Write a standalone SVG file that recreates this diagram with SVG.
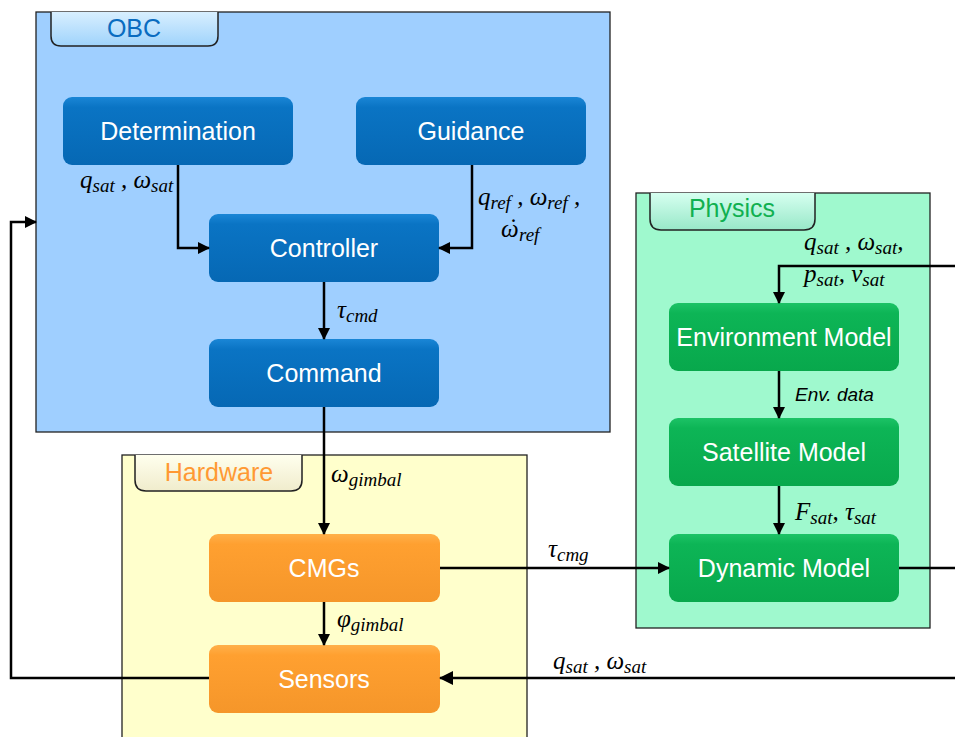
<svg xmlns="http://www.w3.org/2000/svg" width="955" height="737" viewBox="0 0 955 737">
<defs>
<linearGradient id="gBlue" x1="0" y1="0" x2="0" y2="1"><stop offset="0" stop-color="#1a86d6"/><stop offset="0.15" stop-color="#0a74c4"/><stop offset="1" stop-color="#0668b4"/></linearGradient>
<linearGradient id="gOrange" x1="0" y1="0" x2="0" y2="1"><stop offset="0" stop-color="#ffb04a"/><stop offset="0.15" stop-color="#ffa030"/><stop offset="1" stop-color="#f5962a"/></linearGradient>
<linearGradient id="gGreen" x1="0" y1="0" x2="0" y2="1"><stop offset="0" stop-color="#1cc366"/><stop offset="0.15" stop-color="#0db556"/><stop offset="1" stop-color="#08a84c"/></linearGradient>
<linearGradient id="tBlue" x1="0" y1="0" x2="0" y2="1"><stop offset="0" stop-color="#d8efff"/><stop offset="1" stop-color="#9fd3fb"/></linearGradient>
<linearGradient id="tYellow" x1="0" y1="0" x2="0" y2="1"><stop offset="0" stop-color="#ffffee"/><stop offset="1" stop-color="#f0eccc"/></linearGradient>
<linearGradient id="tGreen" x1="0" y1="0" x2="0" y2="1"><stop offset="0" stop-color="#d6fff0"/><stop offset="1" stop-color="#98e8c8"/></linearGradient>
<marker id="arr" markerWidth="12" markerHeight="12" refX="11" refY="6" orient="auto" markerUnits="userSpaceOnUse" viewBox="0 0 12 12"><path d="M0,0 L12,6 L0,12 z" fill="#000"/></marker>
<marker id="arrL" markerWidth="14" markerHeight="14" refX="13" refY="7" orient="auto" markerUnits="userSpaceOnUse" viewBox="0 0 14 14"><path d="M0,0 L14,7 L0,14 z" fill="#000"/></marker>
</defs>
<style>
.cont{stroke:#222;stroke-width:1.3}
.tab{stroke:#222;stroke-width:1.5}
.tabt{font-family:"Liberation Sans",Arial,sans-serif;font-size:25px;text-anchor:middle}
.box{stroke:none}
.bt{font-family:"Liberation Sans",Arial,sans-serif;font-size:25px;fill:#fff;text-anchor:middle;dominant-baseline:central}
.ln{fill:none;stroke:#000;stroke-width:2.5}
.m{font-family:"Liberation Serif","DejaVu Serif",serif;font-style:italic;font-size:25px;fill:#000}
.s{font-size:19px}
.env{font-family:"Liberation Sans",Arial,sans-serif;font-style:italic;font-size:19px;fill:#000}
</style>
<rect width="955" height="737" fill="#fff"/>
<g id="obc">
<rect class="cont" x="36" y="12" width="574" height="420" fill="#9fcfff"/>
<path class="tab" d="M51,12 L51,36 Q51,46 61,46 L208,46 Q218,46 218,36 L218,12" fill="url(#tBlue)"/>
<text class="tabt" x="134" y="37" fill="#0a6cc0">OBC</text>
</g>
<g id="hardware">
<rect class="cont" x="122" y="455" width="405" height="290" fill="#ffffcc"/>
<path class="tab" d="M135,455 L135,480 Q135,491 146,491 L291,491 Q302,491 302,480 L302,455" fill="url(#tYellow)"/>
<text class="tabt" x="219" y="481" fill="#ff9933">Hardware</text>
</g>
<g id="physics">
<rect class="cont" x="636" y="193" width="294" height="435" fill="#9ff9ce"/>
<path class="tab" d="M650,193 L650,219 Q650,230 661,230 L804,230 Q815,230 815,219 L815,193" fill="url(#tGreen)"/>
<text class="tabt" x="732" y="217" fill="#10b050">Physics</text>
</g>
<g id="determination"><rect class="box" x="63" y="97" width="230" height="68" rx="9" fill="url(#gBlue)"/><text class="bt" x="178" y="131">Determination</text></g>
<g id="guidance"><rect class="box" x="356" y="97" width="230" height="68" rx="9" fill="url(#gBlue)"/><text class="bt" x="471" y="131">Guidance</text></g>
<g id="controller"><rect class="box" x="209" y="214" width="230" height="68" rx="9" fill="url(#gBlue)"/><text class="bt" x="324" y="248">Controller</text></g>
<g id="command"><rect class="box" x="209" y="339" width="230" height="68" rx="9" fill="url(#gBlue)"/><text class="bt" x="324" y="373">Command</text></g>
<g id="cmgs"><rect class="box" x="209" y="534" width="231" height="68" rx="9" fill="url(#gOrange)"/><text class="bt" x="324" y="568">CMGs</text></g>
<g id="sensors"><rect class="box" x="209" y="645" width="231" height="68" rx="9" fill="url(#gOrange)"/><text class="bt" x="324" y="679">Sensors</text></g>
<g id="environment"><rect class="box" x="669" y="303" width="230" height="68" rx="9" fill="url(#gGreen)"/><text class="bt" x="784" y="337">Environment Model</text></g>
<g id="satellite"><rect class="box" x="669" y="418" width="230" height="68" rx="9" fill="url(#gGreen)"/><text class="bt" x="784" y="452">Satellite Model</text></g>
<g id="dynamic"><rect class="box" x="669" y="534" width="230" height="68" rx="9" fill="url(#gGreen)"/><text class="bt" x="784" y="568">Dynamic Model</text></g>
<g id="connectors">
<path class="ln" d="M178,165 L178,248 L209,248" marker-end="url(#arr)"/>
<path class="ln" d="M472,165 L472,248 L439,248" marker-end="url(#arr)"/>
<path class="ln" d="M324,282 L324,339" marker-end="url(#arr)"/>
<path class="ln" d="M324,407 L324,534" marker-end="url(#arr)"/>
<path class="ln" d="M324,602 L324,645" marker-end="url(#arr)"/>
<path class="ln" d="M440,568 L669,568" marker-end="url(#arr)"/>
<path class="ln" d="M899,568 L955,568"/>
<path class="ln" d="M955,266 L779,266 L779,303" marker-end="url(#arr)"/>
<path class="ln" d="M779,371 L779,418" marker-end="url(#arr)"/>
<path class="ln" d="M779,486 L779,534" marker-end="url(#arr)"/>
<path class="ln" d="M955,678 L440,678" stroke-width="3.5" marker-end="url(#arrL)"/>
<path class="ln" d="M209,678 L11,678 L11,222 L36,222" stroke-width="3" marker-end="url(#arr)"/>
<text class="m" x="80" y="188">q<tspan class="s" dy="4">sat</tspan><tspan dy="-4"> , ω</tspan><tspan class="s" dy="4">sat</tspan></text>
<text class="m" x="478" y="205">q<tspan class="s" dy="4">ref</tspan><tspan dy="-4"> , ω</tspan><tspan class="s" dy="4">ref</tspan><tspan dy="-4"> ,</tspan></text>
<text class="m" x="501" y="237">ω<tspan dx="-11" dy="-1">˙</tspan><tspan class="s" dx="3" dy="5">ref</tspan></text>
<text class="m" x="337" y="318">τ<tspan class="s" dy="4">cmd</tspan></text>
<text class="m" x="331" y="482">ω<tspan class="s" dy="4">gimbal</tspan></text>
<text class="m" x="548" y="557">τ<tspan class="s" dy="4">cmg</tspan></text>
<text class="m" x="337" y="627">φ<tspan class="s" dy="4">gimbal</tspan></text>
<text class="m" x="553" y="669">q<tspan class="s" dy="4">sat</tspan><tspan dy="-4"> , ω</tspan><tspan class="s" dy="4">sat</tspan></text>
<text class="m" x="804" y="250">q<tspan class="s" dy="4">sat</tspan><tspan dy="-4"> , ω</tspan><tspan class="s" dy="4">sat</tspan><tspan dy="-4">,</tspan></text>
<text class="m" x="804" y="282">p<tspan class="s" dy="4">sat</tspan><tspan dy="-4">, v</tspan><tspan class="s" dy="4">sat</tspan></text>
<text class="env" x="795" y="401">Env. data</text>
<text class="m" x="795" y="520">F<tspan class="s" dy="4">sat</tspan><tspan dy="-4">, τ</tspan><tspan class="s" dy="4">sat</tspan></text>
</g>
</svg>
